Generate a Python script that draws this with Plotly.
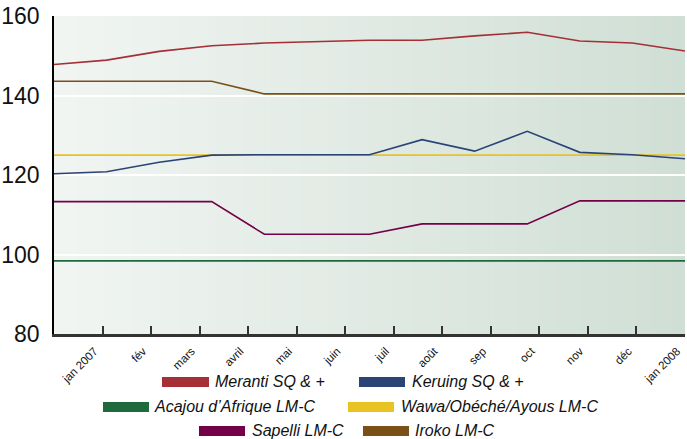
import plotly.graph_objects as go

# Monthly price indices, Jan 2007 - Jan 2008
months = ["jan 2007", "fév", "mars", "avril", "mai", "juin", "juil",
          "août", "sep", "oct", "nov", "déc", "jan 2008"]

meranti = [147.8, 148.9, 151.1, 152.5, 153.2, 153.6, 153.9, 153.9, 155.0, 155.9, 153.7, 153.2, 151.2]
keruing = [120.3, 120.8, 123.2, 125.0, 125.1, 125.1, 125.1, 128.9, 126.0, 131.0, 125.7, 125.1, 124.1]
acajou = [98.4, 98.4, 98.4, 98.4, 98.4, 98.4, 98.4, 98.4, 98.4, 98.4, 98.4, 98.4, 98.4]
wawa = [125.0, 125.0, 125.0, 125.0, 125.0, 125.0, 125.0, 125.0, 125.0, 125.0, 125.0, 125.0, 125.0]
sapelli = [113.3, 113.3, 113.3, 113.3, 105.1, 105.1, 105.1, 107.7, 107.7, 107.7, 113.5, 113.5, 113.5]
iroko = [143.6, 143.6, 143.6, 143.6, 140.4, 140.4, 140.4, 140.4, 140.4, 140.4, 140.4, 140.4, 140.4]

names = ["Meranti SQ & +", "Keruing SQ & +", "Acajou d\u2019Afrique LM-C",
         "Wawa/Obéché/Ayous LM-C", "Sapelli LM-C", "Iroko LM-C"]
series = [meranti, keruing, acajou, wawa, sapelli, iroko]
colors = ["#a52f35", "#2b4476", "#1f6a3c", "#e8c322", "#74004a", "#7a5018"]

y_ticks = [80, 100, 120, 140, 160]

FONT = "Liberation Sans, Arial, sans-serif"

W, H = 687, 439
ML, MR, MT, MB = 54, 2, 16, 105
PW, PH = W - ML - MR, H - MT - MB


def px(x):
    return (x - ML) / PW


def py(y):
    return (H - MB - y) / PH


n = len(months)
xs = list(range(n))

fig = go.Figure()

# draw order: blue above yellow where they meet
draw_order = [2, 3, 4, 5, 1, 0]
for i in draw_order:
    fig.add_trace(go.Scatter(
        x=xs, y=series[i], mode="lines", name=names[i],
        line=dict(color=colors[i], width=1.6), showlegend=False,
    ))

shapes = []
# horizontal gradient background of the plot area
steps = 90
c0 = (241, 245, 242)
c1 = (208, 223, 213)
for k in range(steps):
    t = k / (steps - 1)
    c = tuple(round(c0[j] + (c1[j] - c0[j]) * t) for j in range(3))
    shapes.append(dict(
        type="rect", xref="paper", yref="paper", layer="below",
        x0=k / steps, x1=min(1.0, (k + 1) / steps + 0.002), y0=0, y1=1,
        fillcolor="rgb(%d,%d,%d)" % c, line=dict(width=0),
    ))

# legend: swatch rectangles and labels, three centred rows
legend_pos = [  # (swatch left, swatch right, text left, row centre) in pixels
    (162, 209, 215, 382),
    (359, 405, 412, 382),
    (103, 149, 154, 407),
    (348, 394, 401, 407),
    (199, 245, 252, 431),
    (363, 409, 415, 431),
]
annotations = []
for i, (sx0, sx1, tx, cy) in enumerate(legend_pos):
    shapes.append(dict(
        type="rect", xref="paper", yref="paper",
        x0=px(sx0), x1=px(sx1), y0=py(cy + 5), y1=py(cy - 5),
        fillcolor=colors[i], line=dict(width=0),
    ))
    annotations.append(dict(
        xref="paper", yref="paper", x=px(tx - 2), y=py(cy - 1),
        xanchor="left", yanchor="middle", showarrow=False,
        text="<i>%s</i>" % names[i],
        font=dict(family=FONT, size=16, color="#111"),
    ))

# category ticks sit at the right edge of each of the n slots
tickvals = [round((k + 1) * (n - 1) / n, 6) for k in range(n)]

fig.update_layout(
    width=W, height=H,
    margin=dict(l=ML, r=MR, t=MT, b=MB),
    paper_bgcolor="white",
    plot_bgcolor="rgba(0,0,0,0)",
    shapes=shapes,
    annotations=annotations,
    showlegend=False,
    xaxis=dict(
        range=[0, n - 1], tickmode="array", tickvals=tickvals, ticktext=months,
        tickangle=-45, tickfont=dict(family=FONT, size=11.5, color="#111"),
        showgrid=False, zeroline=False,
        showline=True, linecolor="#333", linewidth=3,
        ticks="inside", ticklen=8, tickwidth=2, tickcolor="#333",
        ticklabelshift=-8, ticklabelstandoff=3,
    ),
    yaxis=dict(
        range=[80, 160], tickmode="array", tickvals=y_ticks,
        tickfont=dict(family=FONT, size=23, color="#111"),
        showgrid=True, gridcolor="white", gridwidth=1.5,
        zeroline=False, showline=True, linecolor="#000", linewidth=1.5,
        ticks="", ticklabelstandoff=8,
    ),
)

fig.write_html("out.html")
